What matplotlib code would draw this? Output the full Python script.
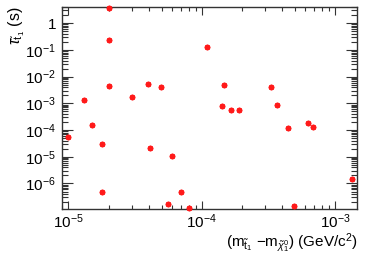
import matplotlib
matplotlib.use("Agg")
import matplotlib.pyplot as plt
from matplotlib.ticker import LogLocator, FixedLocator, FixedFormatter, NullFormatter

plt.rcParams['font.family'] = ['Liberation Sans', 'DejaVu Sans']
plt.rcParams['mathtext.fontset'] = 'custom'
plt.rcParams['mathtext.rm'] = 'Liberation Sans'
plt.rcParams['mathtext.it'] = 'Liberation Sans:italic'
plt.rcParams['mathtext.bf'] = 'Liberation Sans:bold'

# data: mass difference (GeV/c^2) and stop lifetime (s)
dm = [2.0e-5, 2.0e-5, 2.0e-5, 3.98e-5, 1.30e-5, 2.99e-5, 4.95e-5,
      1.50e-5, 1.0e-5, 1.80e-5, 4.1e-5, 1.80e-5,
      1.42e-4, 1.65e-4, 1.90e-4, 6.0e-5, 7.0e-5, 5.6e-5, 8.0e-5,
      1.10e-4, 1.46e-4, 3.33e-4, 3.7e-4, 4.4e-4, 6.3e-4, 6.8e-4,
      1.35e-3, 4.95e-4]
tau = [3.7, 0.23, 4.6e-3, 5.5e-3, 1.38e-3, 1.7e-3, 4.1e-3,
       1.5e-4, 5.4e-5, 3.1e-5, 2.1e-5, 4.7e-7,
       8.2e-4, 5.5e-4, 5.5e-4, 1.05e-5, 4.8e-7, 1.7e-7, 1.2e-7,
       0.126, 4.8e-3, 4.2e-3, 9e-4, 1.2e-4, 1.9e-4, 1.3e-4,
       1.5e-6, 1.4e-7]

xticks = [1e-5, 1e-4, 1e-3]
xticklabels = [r'$10^{-5}$', r'$10^{-4}$', r'$10^{-3}$']
yticks = [1, 1e-1, 1e-2, 1e-3, 1e-4, 1e-5, 1e-6]
yticklabels = ['1', r'$10^{-1}$', r'$10^{-2}$', r'$10^{-3}$', r'$10^{-4}$', r'$10^{-5}$', r'$10^{-6}$']

fig = plt.figure(figsize=(3.74, 2.56), dpi=100)
ax = fig.add_axes([0.165, 0.182, 0.789, 0.792])
ax.set_xscale('log')
ax.set_yscale('log')
ax.plot(dm, tau, linestyle='none', marker=(8, 2, 0), markersize=4,
        markeredgewidth=1.3, color='#ff0000', markeredgecolor='#ff1a1a', clip_on=False, zorder=3)
ax.set_xlim(10**-5.05, 10**-2.837)
ax.set_ylim(10**-6.97, 10**0.62)

ax.xaxis.set_major_locator(FixedLocator(xticks))
ax.xaxis.set_major_formatter(FixedFormatter(xticklabels))
ax.xaxis.set_minor_locator(LogLocator(base=10, subs=range(2, 10), numticks=20))
ax.xaxis.set_minor_formatter(NullFormatter())
ax.yaxis.set_major_locator(FixedLocator(yticks))
ax.yaxis.set_major_formatter(FixedFormatter(yticklabels))
ax.yaxis.set_minor_locator(LogLocator(base=10, subs=range(2, 10), numticks=20))
ax.yaxis.set_minor_formatter(NullFormatter())

ax.tick_params(axis='both', which='both', direction='in', top=True, right=True,
               colors='#333333', labelcolor='black', width=0.8)
ax.tick_params(axis='x', which='major', length=6, labelsize=11, pad=2)
ax.tick_params(axis='x', which='minor', length=3)
ax.tick_params(axis='y', which='major', length=8, labelsize=11, pad=4)
ax.tick_params(axis='y', which='minor', length=4)
for s in ax.spines.values():
    s.set_color('#333333')
    s.set_linewidth(1.0)

fig.text(0.956, 0.004, r'$(\mathrm{m}_{\tilde{\mathrm{t}}_1}\ \mathrm{-m}_{\tilde{\chi}^0_1})$ (GeV/c$^2$)',
         ha='right', va='bottom', fontsize=11)
fig.text(0.045, 0.975, r'$\tau_{\tilde{\mathrm{t}}_1}$ (s)', rotation=90, ha='center', va='top', fontsize=11.5)

fig.savefig('out.png', dpi=100)
